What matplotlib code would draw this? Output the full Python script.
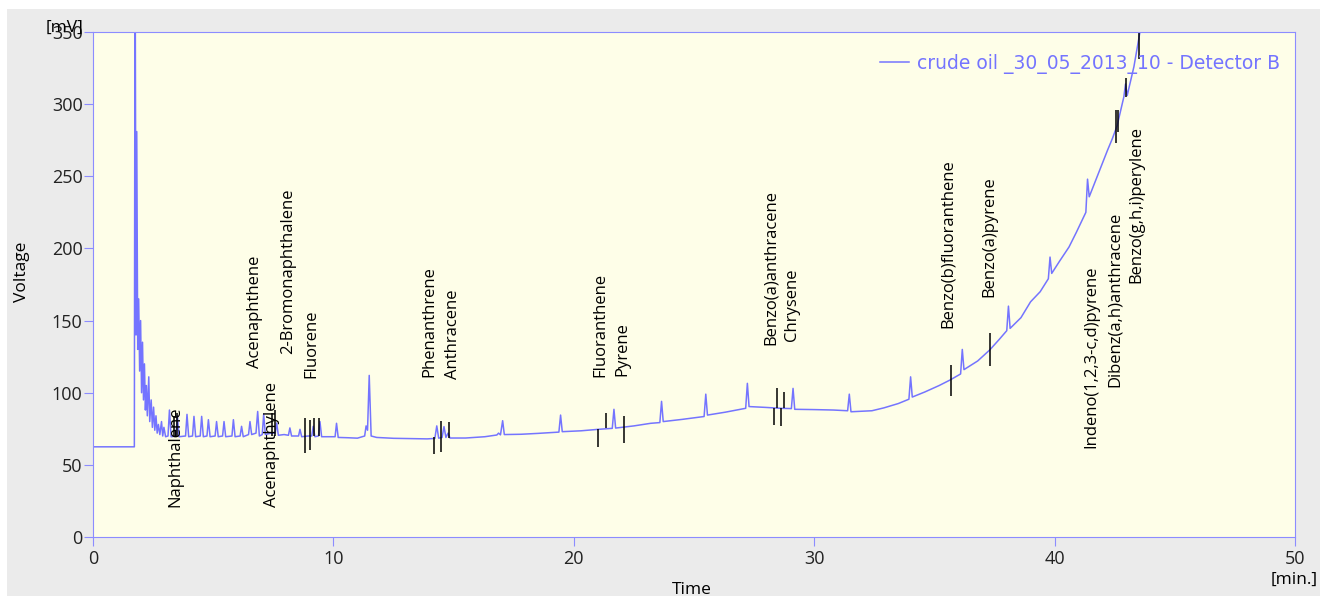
import matplotlib.pyplot as plt
from matplotlib.patches import Rectangle

# chromatogram trace: time [min] and voltage [mV]
time_min = [0.0, 1.72, 1.75, 1.79, 1.82, 1.86, 1.90, 1.94, 1.98, 2.02,
            2.06, 2.10, 2.14, 2.18, 2.22, 2.26, 2.32, 2.36, 2.42, 2.47,
            2.52, 2.57, 2.62, 2.67, 2.72, 2.78, 2.85, 2.90, 2.95, 3.02,
            3.12, 3.18, 3.25, 3.45, 3.51, 3.58, 3.85, 3.91, 3.98, 4.14,
            4.20, 4.27, 4.46, 4.52, 4.59, 4.74, 4.80, 4.87, 5.08, 5.14,
            5.21, 5.39, 5.45, 5.52, 5.78, 5.84, 5.91, 6.12, 6.18, 6.25,
            6.47, 6.53, 6.60, 6.78, 6.85, 6.92, 7.04, 7.10, 7.17, 7.40,
            7.58, 7.64, 7.71, 7.95, 8.13, 8.19, 8.26, 8.55, 8.61, 8.68,
            8.95, 9.10, 9.16, 9.23, 9.38, 9.44, 9.51, 9.80, 10.07, 10.13,
            10.20, 10.60, 11.00, 11.30, 11.36, 11.42, 11.49, 11.57, 11.80, 12.50,
            13.20, 13.90, 14.22, 14.30, 14.38, 14.52, 14.60, 14.68, 14.77, 14.85,
            15.50, 16.30, 16.80, 16.87, 16.95, 17.04, 17.11, 17.80, 18.50, 19.38,
            19.45, 19.52, 20.30, 21.00, 21.60, 21.67, 21.74, 22.50, 23.20, 23.58,
            23.65, 23.72, 24.50, 25.42, 25.49, 25.56, 26.30, 27.15, 27.22, 27.29,
            28.00, 28.60, 29.05, 29.12, 29.19, 30.00, 30.80, 31.39, 31.46, 31.53,
            32.40, 32.90, 33.50, 33.94, 34.01, 34.08, 34.60, 35.20, 35.65, 36.09,
            36.16, 36.23, 36.80, 37.30, 37.70, 38.01, 38.08, 38.15, 38.60, 39.00,
            39.40, 39.74, 39.81, 39.88, 40.20, 40.60, 40.90, 41.30, 41.37, 41.44,
            41.80, 42.20, 42.40, 42.60, 42.88, 42.95, 43.02, 43.30, 43.55, 43.80]
voltage_mv = [62.5, 62.5, 430, 140, 281, 130, 165, 115, 150, 100,
              135, 95, 120, 88, 105, 84, 111, 80, 95, 76,
              90, 74, 84, 72, 78, 71, 80, 70, 76, 69.5,
              70, 88, 69.5, 70, 84, 69.5, 70, 85, 69.5, 70,
              83.6, 69.5, 70, 83.6, 69.5, 70, 81.3, 69.5, 70, 80,
              69.5, 70, 80, 69.5, 70, 81.3, 69.5, 70, 76.7, 69.5,
              71, 80, 71, 72, 87, 70, 71, 85, 71, 72,
              72, 79, 70.5, 71, 70.5, 75.6, 70, 70, 74.6, 69.5,
              70, 70, 76.7, 69.5, 70, 80, 69.5, 69.5, 69.5, 78.8,
              69, 68.8, 68.5, 70, 77, 74, 112, 70, 69, 68.4,
              68.2, 68, 68.3, 77, 68.5, 69, 76.5, 69, 72, 68.6,
              68.6, 69.5, 70.7, 72, 70.8, 80.6, 71, 71.2, 71.8, 72.7,
              84.5, 73, 73.6, 74.6, 75.3, 88.5, 75.5, 77, 78.8, 79.3,
              94, 80, 81.5, 83.5, 99, 84.5, 86.5, 89.2, 106.5, 90.4,
              89.8, 89.2, 89, 103, 88.5, 88.3, 88, 87.5, 99, 86.8,
              87.5, 89.5, 92.5, 95.5, 111, 97, 100.5, 105, 108.8, 113,
              130, 116, 122, 129.6, 137, 143, 160, 144.6, 152, 163,
              170, 179, 194, 182.7, 191, 201, 211, 225, 248, 235.8,
              251, 268, 276, 285, 305, 314, 306, 326, 350, 375]

# identification marks (short black bars)
mark_t = [3.38, 3.50, 7.45, 7.58, 8.82, 9.03, 9.19, 9.41, 14.20, 14.47,
          14.80, 21.02, 21.34, 22.10, 28.34, 28.47, 28.60, 28.74, 35.68, 37.31,
          42.56, 42.65, 42.97, 43.52]
mark_lo = [70, 70, 70, 70, 58.4, 60.6, 70, 70, 57.5, 58.7,
           68.9, 62.6, 75.3, 64.9, 77.6, 89.2, 77, 89.2, 97.7, 118.5,
           272.8, 281, 305, 331.6]
mark_hi = [84, 86, 86, 88, 82.3, 81, 82.5, 82.5, 69.3, 80.5,
           79.6, 74.6, 85.7, 83.9, 89.2, 103, 89.2, 100.7, 119.2, 141.6,
           296, 296, 318, 350]

# compound names and where their text starts
labels = ["Naphthalene", "Acenaphthene", "Acenaphthylene", "2-Bromonaphthalene",
          "Fluorene", "Phenanthrene", "Anthracene", "Fluoranthene", "Pyrene",
          "Benzo(a)anthracene", "Chrysene", "Benzo(b)fluoranthene", "Benzo(a)pyrene",
          "Indeno(1,2,3-c,d)pyrene", "Dibenz(a,h)anthracene", "Benzo(g,h,i)perylene"]
label_t = [3.41, 6.74, 7.45, 8.11, 9.07, 13.99, 14.99, 21.09, 22.03,
           28.19, 29.06, 35.54, 37.28, 41.54, 42.51, 43.41]
label_v = [20.8, 117, 20.8, 126.8, 110, 111, 109.3, 110.7, 111.6,
           133, 136, 144.6, 166.5, 61.5, 104.2, 176.2]

line_c = '#7474ff'
frame_c = '#8c8cff'
plt.rcParams['font.family'] = ['Open Sans', 'DejaVu Sans']

fig = plt.figure(figsize=(13.2, 5.96), dpi=100)
fig.patch.set_facecolor('#ebebeb')
# white strips at top and left edge
fig.patches.append(Rectangle((0, 1 - 9/596), 1, 9/596, transform=fig.transFigure,
                             facecolor='white', edgecolor='none', zorder=-1))
fig.patches.append(Rectangle((0, 0), 7/1320, 1, transform=fig.transFigure,
                             facecolor='white', edgecolor='none', zorder=-1))

ax = fig.add_axes([93/1320, 59/596, 1202/1320, 505/596])
ax.set_facecolor('#fefee8')
ax.plot(time_min, voltage_mv, color=line_c, lw=1.1,
        label='crude oil _30_05_2013_10 - Detector B')
ax.vlines(mark_t, mark_lo, mark_hi, color='black', lw=1.1)

for name, t, v in zip(labels, label_t, label_v):
    ax.text(t, v, name, rotation=90, ha='center', va='bottom', fontsize=12, color='black')

ax.set_xlim(0, 50)
ax.set_ylim(0, 350)
ax.set_xticks(range(0, 51, 10))
ax.set_yticks(range(0, 351, 50))
ax.tick_params(direction='out', length=6.5, color=frame_c, labelsize=13,
               labelcolor='#222222')
ax.tick_params(axis='y', pad=1)
ax.tick_params(axis='x', pad=3)
for s in ax.spines.values():
    s.set_color(frame_c)

leg = ax.legend(loc='upper right', frameon=False, handlelength=1.55, handletextpad=0.45,
                labelcolor=line_c, prop={'family': 'DejaVu Sans', 'size': 13.5},
                bbox_to_anchor=(1.002, 0.99))

fig.text(22/1320, 1 - 272/596, 'Voltage', rotation=90, ha='center', va='center', fontsize=12.5)
fig.text(692/1320, 1 - 590/596, 'Time', ha='center', va='center', fontsize=12.5)
fig.text(65/1320, 1 - 28/596, '[mV]', ha='center', va='center', fontsize=12.5)
fig.text(1294/1320, 1 - 580/596, '[min.]', ha='center', va='center', fontsize=12.5)

plt.savefig('out.png', dpi=100, facecolor=fig.get_facecolor())
